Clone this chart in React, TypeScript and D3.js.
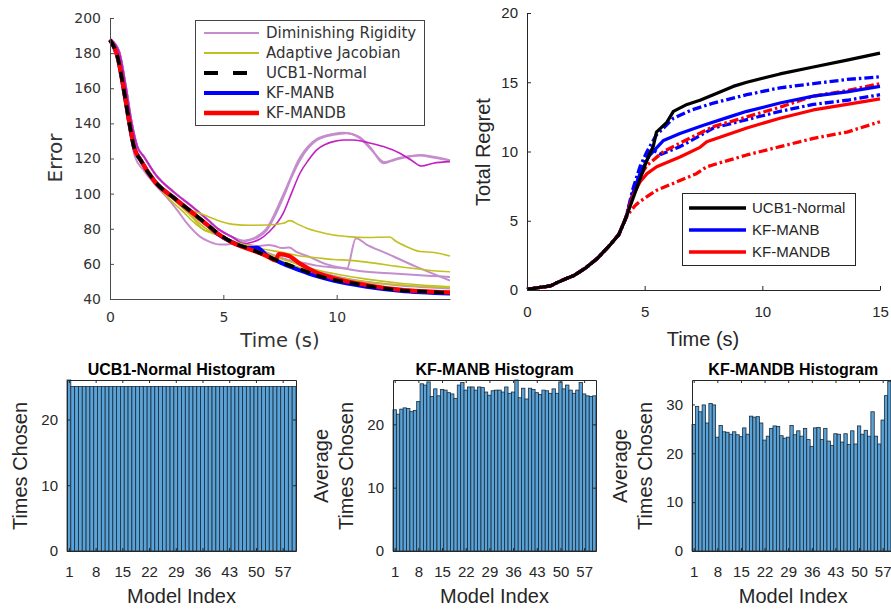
import { useEffect, useRef } from 'react';
import * as d3 from 'd3';

type Pt = [number, number];

// ---------- top left: Error vs Time (s) ----------
const errorTicks = [40, 60, 80, 100, 120, 140, 160, 180, 200];
const timeTicksLeft = [0, 5, 10];

const bundleStart: Pt[] = [[0, 187.5], [0.35, 177], [0.65, 156], [0.87, 139], [1.05, 127], [1.38, 118.5], [1.97, 107], [2.85, 97.3]];
const ucbErrTail: Pt[] = [[3.59, 89.7], [4.32, 82.1], [4.76, 77.4], [5.44, 72], [6.18, 68.5], [6.91, 64.5], [7.65, 60.5], [8.38, 57], [9.12, 53.5], [9.85, 51], [10.6, 49.3], [11.32, 47.5], [12.79, 45], [14.5, 43.8], [15, 43.3]];
const manbErrTail: Pt[] = [[3.59, 89.5], [4.32, 81.8], [4.76, 77], [5.44, 72], [6.18, 69], [6.5, 69.2], [6.9, 65], [7.65, 60], [8.38, 56.3], [9.12, 53], [9.85, 50.5], [11.32, 47], [12.79, 44.7], [15, 43.1]];
const mandbErrTail: Pt[] = [[3.59, 89.6], [4.32, 81.9], [4.76, 77.2], [5.44, 71.8], [6.18, 68.2], [6.91, 64.5], [7.3, 62], [7.45, 65.5], [7.9, 64.5], [8.4, 60], [9.12, 55], [9.85, 52], [11.32, 48], [12.79, 45.3], [15, 43.8]];

const drUpperStart: Pt[] = [[0, 188], [0.4, 181], [0.7, 161], [0.95, 141], [1.2, 127], [1.5, 121], [2.0, 111], [2.85, 100.5], [3.59, 93], [4.32, 85], [4.76, 80], [5.44, 75]];
const drDip: Pt[] = [[0, 187], [0.35, 176], [0.65, 153], [0.9, 134], [1.1, 121], [1.5, 113], [2.0, 105], [2.5, 98], [3.0, 90], [3.4, 83], [3.97, 75.5], [4.4, 72.5], [4.85, 71], [5.44, 71.5], [6.03, 73.5], [6.5, 75], [6.91, 79], [7.3, 88], [7.65, 98], [8.0, 109], [8.38, 119], [8.75, 126], [9.12, 130.5], [9.5, 132.5], [9.85, 133.5], [10.44, 134.4], [11.03, 132], [11.5, 126], [12.06, 117.3], [12.4, 118.5], [12.79, 120], [13.3, 121.3], [13.68, 122], [14.26, 121], [15, 119]];
const drRiseTail: Pt[] = [[6.0, 73], [6.4, 75], [6.9, 80], [7.65, 99.5], [8.38, 120.5], [9.12, 131], [9.85, 134], [10.3, 134.6], [11.03, 131.5], [11.6, 124], [12.1, 118], [12.79, 120.5], [13.68, 121.7], [14.26, 120.5], [15, 118.8]];
const drMagentaTail: Pt[] = [[5.9, 71.5], [6.3, 72.5], [6.6, 74], [7.0, 78], [7.65, 89], [8.0, 100], [8.38, 111.6], [8.75, 119], [9.12, 124.9], [9.5, 128], [9.85, 129.6], [10.3, 130.5], [10.74, 130.5], [11.4, 129], [12.06, 126.8], [12.79, 123], [13.3, 119], [13.74, 115.7], [14.26, 117.3], [15, 118.2]];
const drSpikeTail: Pt[] = [[5.9, 71.5], [6.9, 66.5], [7.65, 63], [8.38, 61], [9.12, 59], [9.85, 58], [10.45, 57.3], [10.85, 74.6], [11.32, 71], [12.2, 66], [13.5, 58.4], [15, 50.5]];
const drWiggleTail: Pt[] = [[6.0, 71.5], [6.5, 70.2], [7.0, 70.8], [7.3, 70], [7.6, 69], [7.9, 69.3], [8.2, 67], [8.8, 64], [9.5, 60], [10.2, 57.8], [11.0, 56], [12.5, 54.5], [14.0, 53.3], [15, 52.5]];
const drLowTail: Pt[] = [[6.18, 69.5], [6.91, 66], [7.65, 63], [8.38, 59.5], [9.12, 56], [9.85, 53.2], [11.32, 49.8], [12.79, 47.7], [15, 46]];

const ajFlat: Pt[] = [[3.0, 96], [3.59, 90.5], [3.97, 88.8], [4.4, 86.5], [4.7, 85], [5.44, 82.5], [6.2, 82], [6.91, 82.1], [7.65, 83.1], [7.94, 84.6], [8.3, 82.5], [8.68, 80.3], [9.3, 78], [9.85, 76.4], [10.5, 75.5], [11.32, 75], [12.35, 75.3], [12.6, 73], [13.09, 69.8], [13.68, 67], [14.3, 66.5], [15, 64.5]];
const ajMid: Pt[] = [[2.85, 96], [3.59, 87], [4.18, 79], [4.5, 78], [4.9, 76], [5.44, 73], [6.18, 70], [6.91, 68], [7.65, 66.5], [8.38, 64.5], [9.12, 63.5], [9.85, 62.5], [10.59, 62], [11.32, 61], [12.79, 58.4], [14.26, 56.1], [15, 55.5]];
const ajNear: Pt[] = [[2.85, 96.5], [3.59, 87.5], [4.18, 80.5], [4.76, 76.5], [5.44, 72.5], [6.18, 69], [6.91, 66], [7.65, 62.5], [8.38, 59.5], [9.12, 56.5], [9.85, 54.5], [11.32, 51.3], [12.79, 49], [15, 47]];
const ajLow: Pt[] = [[2.5, 98.5], [3.2, 90], [3.8, 82.5], [4.2, 79], [4.5, 77.5], [4.9, 75.5], [5.44, 72], [6.18, 68], [6.91, 64.8], [7.65, 61.2], [8.38, 57.8], [9.12, 54.8], [10.6, 51], [12.79, 48], [15, 46.5]];

// ---------- top right: Total Regret vs Time (s) ----------
const regretTicks = [0, 5, 10, 15, 20];
const timeTicksRight = [0, 5, 10, 15];

const regretStart: Pt[] = [[0, 0.05], [0.3, 0.12], [0.6, 0.2], [1.0, 0.3], [1.3, 0.55], [1.7, 0.85], [2.0, 1.05], [2.5, 1.6], [3.0, 2.3], [3.5, 3.2], [3.9, 4.0], [4.2, 5.2]];
const ucbRegret: Pt[] = [[4.5, 6.6], [4.8, 8.0], [5.1, 9.4], [5.37, 10.4], [5.5, 11.4], [5.94, 12.1], [6.22, 12.9], [6.8, 13.4], [7.35, 13.7], [7.92, 14.1], [8.76, 14.7], [9.34, 15.0], [10.75, 15.6], [12.17, 16.1], [13.6, 16.6], [15, 17.1]];
const manbRegret: Pt[] = [[4.5, 7.0], [4.8, 8.4], [5.2, 9.7], [5.8, 10.8], [6.5, 11.3], [7.5, 11.9], [8.6, 12.5], [9.34, 12.9], [10.75, 13.5], [12.17, 14.0], [13.6, 14.3], [15, 14.7]];
const manbRegretHi: Pt[] = [[4.5, 7.3], [4.8, 8.9], [5.1, 10.0], [5.5, 11.2], [6.22, 12.4], [7.0, 13.0], [7.92, 13.5], [9.34, 14.1], [10.75, 14.6], [12.17, 14.9], [13.6, 15.2], [15, 15.4]];
const manbRegretLo: Pt[] = [[4.5, 7.0], [4.8, 8.6], [5.1, 9.8], [5.35, 10.1], [5.7, 9.8], [6.5, 10.35], [7.2, 11.0], [7.92, 11.7], [9.34, 12.3], [10.75, 12.9], [12.17, 13.4], [13.6, 13.7], [15, 14.1]];
const mandbRegret: Pt[] = [[4.5, 6.8], [4.8, 7.8], [5.1, 8.4], [5.51, 8.9], [6.5, 9.6], [7.35, 10.3], [7.64, 10.7], [9.34, 11.7], [10.75, 12.4], [12.17, 13.0], [13.6, 13.4], [15, 13.8]];
const mandbRegretHi: Pt[] = [[4.5, 7.0], [4.8, 8.2], [5.1, 9.0], [5.8, 10.0], [7.2, 11.2], [7.92, 11.8], [9.34, 12.5], [10.75, 13.2], [12.17, 14.0], [13.6, 14.4], [15, 14.9]];
const mandbRegretLo: Pt[] = [[4.4, 5.7], [4.6, 6.1], [4.8, 6.4], [5.51, 7.2], [6.5, 7.9], [7.2, 8.4], [7.64, 8.9], [8.63, 9.4], [9.34, 9.75], [10.75, 10.35], [12.17, 10.95], [13.6, 11.4], [15, 12.15]];

// ---------- bottom: histograms over model index 1..60 ----------
const modelTicks = [1, 8, 15, 22, 29, 36, 43, 50, 57];
const ucbCounts = [26, 25, 25, 25, 25, 25, 25, 25, 25, 25, 25, 25, 25, 25, 25, 25, 25, 25, 25, 25, 25, 25, 25, 25, 25, 25, 25, 25, 25, 25, 25, 25, 25, 25, 25, 25, 25, 25, 25, 25, 25, 25, 25, 25, 25, 25, 25, 25, 25, 25, 25, 25, 25, 25, 25, 25, 25, 25, 25, 25];
const manbCounts = [22.3, 21.6, 22.4, 22.6, 22.5, 22.0, 22.2, 23.6, 26.4, 26.2, 26.7, 24.4, 25.6, 24.5, 25.5, 25.4, 25.0, 24.8, 24.1, 26.2, 26.6, 25.4, 25.9, 25.9, 25.4, 25.9, 25.8, 25.1, 24.6, 25.3, 25.4, 25.4, 25.1, 25.9, 24.9, 25.1, 27.0, 24.2, 25.7, 24.0, 25.7, 25.5, 25.0, 24.7, 25.4, 25.3, 24.9, 25.6, 24.9, 26.7, 25.6, 26.2, 25.4, 24.9, 25.4, 26.6, 24.8, 24.5, 24.4, 24.5];
const mandbCounts = [25.9, 29.6, 28.5, 29.9, 26.2, 30.2, 29.9, 23.3, 25.7, 24.4, 24.3, 23.9, 24.4, 23.8, 23.4, 25.2, 23.9, 27.6, 27.4, 27.5, 26.2, 22.7, 23.5, 25.1, 25.6, 25.5, 23.6, 23.1, 23.3, 25.7, 23.8, 24.6, 23.5, 25.1, 22.8, 21.4, 25.2, 25.3, 22.8, 25.1, 22.5, 21.6, 24.0, 23.9, 22.3, 24.0, 21.8, 24.6, 21.9, 25.6, 23.9, 24.7, 23.5, 28.5, 23.5, 21.9, 26.8, 31.8, 34.7, 35];

const SANS = "'Liberation Sans', Arial, sans-serif";
const DEJAVU = "'DejaVu Sans', Verdana, sans-serif";
const INK = '#262626';
const LIGHT_PURPLE = '#c48dcc';
const MAGENTA = '#c21fc4';
const OLIVE = '#c0c021';
const BAR_FILL = '#5aa3d8';

type Sel = d3.Selection<SVGGElement, unknown, null, undefined>;

function styleAxis(g: Sel, font: string, size: number, color: string) {
  g.attr('font-family', font).attr('font-size', size);
  g.select('.domain').attr('stroke', color);
  g.selectAll('.tick line').attr('stroke', color);
  g.selectAll('.tick text').attr('fill', color);
}

function addPath(g: Sel, pts: Pt[], x: d3.ScaleLinear<number, number>, y: d3.ScaleLinear<number, number>, color: string, width: number, dash: string | null, smooth: boolean) {
  const line = d3.line<Pt>().x((d) => x(d[0])).y((d) => y(d[1]));
  if (smooth) line.curve(d3.curveMonotoneX);
  g.append('path')
    .datum(pts)
    .attr('fill', 'none')
    .attr('stroke', color)
    .attr('stroke-width', width)
    .attr('stroke-linejoin', 'round')
    .attr('stroke-dasharray', dash)
    .attr('d', line);
}

function drawErrorPlot(svg: d3.Selection<SVGSVGElement, unknown, null, undefined>) {
  const x = d3.scaleLinear().domain([0, 15]).range([110, 450]);
  const y = d3.scaleLinear().domain([40, 200]).range([299, 18]);
  const axisColor = '#4a4a4a';

  svg.append('clipPath').attr('id', 'clipTL').append('rect').attr('x', 104).attr('y', 10).attr('width', 346).attr('height', 295);
  const plot = svg.append('g').attr('clip-path', 'url(#clipTL)');

  addPath(plot, drDip, x, y, LIGHT_PURPLE, 2, null, true);
  addPath(plot, drUpperStart.concat(drRiseTail), x, y, LIGHT_PURPLE, 2, null, true);
  addPath(plot, drUpperStart.concat(drWiggleTail), x, y, LIGHT_PURPLE, 2, null, true);
  addPath(plot, drUpperStart.concat(drSpikeTail), x, y, LIGHT_PURPLE, 2, null, true);
  addPath(plot, drUpperStart.concat(drLowTail), x, y, LIGHT_PURPLE, 2, null, true);
  addPath(plot, drUpperStart.concat(drMagentaTail), x, y, MAGENTA, 1.6, null, true);
  addPath(plot, bundleStart.concat(ajFlat), x, y, OLIVE, 1.6, null, true);
  addPath(plot, bundleStart.slice(0, 7).concat(ajMid), x, y, OLIVE, 1.6, null, true);
  addPath(plot, bundleStart.slice(0, 7).concat(ajNear), x, y, OLIVE, 1.6, null, true);
  addPath(plot, bundleStart.slice(0, 7).concat(ajLow), x, y, OLIVE, 1.6, null, true);
  addPath(plot, bundleStart.concat(manbErrTail), x, y, '#0000ff', 4, null, true);
  addPath(plot, bundleStart.concat(mandbErrTail), x, y, '#ff0000', 4.2, null, true);
  addPath(plot, bundleStart.concat(ucbErrTail), x, y, '#000000', 3.6, '10,7', true);

  const ay = svg.append('g').attr('transform', 'translate(110,0)')
    .call(d3.axisLeft(y).tickValues(errorTicks).tickSize(-4).tickSizeOuter(0).tickPadding(9));
  styleAxis(ay, DEJAVU, 14, axisColor);
  ay.selectAll('.tick text').attr('fill', '#333');
  const ax = svg.append('g').attr('transform', 'translate(0,299)')
    .call(d3.axisBottom(x).tickValues(timeTicksLeft).tickSize(-4).tickSizeOuter(0).tickPadding(13));
  styleAxis(ax, DEJAVU, 14, axisColor);
  ax.selectAll('.tick text').attr('fill', '#333');

  svg.append('text').attr('transform', 'translate(62,158) rotate(-90)').attr('text-anchor', 'middle')
    .attr('font-family', DEJAVU).attr('font-size', 20).attr('fill', '#333').text('Error');
  svg.append('text').attr('x', 280).attr('y', 347).attr('text-anchor', 'middle')
    .attr('font-family', DEJAVU).attr('font-size', 19.5).attr('fill', '#333').text('Time (s)');

  const legend = svg.append('g');
  legend.append('rect').attr('x', 195.5).attr('y', 20.5).attr('width', 229).attr('height', 105)
    .attr('fill', '#fff').attr('stroke', '#444').attr('stroke-width', 1);
  const items: [string, string, number, string | null][] = [
    ['Diminishing Rigidity', LIGHT_PURPLE, 2, null],
    ['Adaptive Jacobian', OLIVE, 2, null],
    ['UCB1-Normal', '#000000', 4, '14,15'],
    ['KF-MANB', '#0000ff', 4, null],
    ['KF-MANDB', '#ff0000', 4.5, null],
  ];
  items.forEach(([label, color, w, dash], i) => {
    const yy = 33 + i * 20;
    legend.append('line').attr('x1', 204).attr('x2', 259).attr('y1', yy).attr('y2', yy)
      .attr('stroke', color).attr('stroke-width', w).attr('stroke-dasharray', dash);
    legend.append('text').attr('x', 266).attr('y', yy).attr('dy', '0.36em')
      .attr('font-family', DEJAVU).attr('font-size', 15).attr('fill', '#333').text(label);
  });
}

function drawRegretPlot(svg: d3.Selection<SVGSVGElement, unknown, null, undefined>) {
  const x = d3.scaleLinear().domain([0, 15]).range([527, 880]);
  const y = d3.scaleLinear().domain([0, 20]).range([290, 13]);
  const plot = svg.append('g');
  const dashDot = '9,3,2.5,3';

  addPath(plot, regretStart.concat(manbRegretHi), x, y, '#0000ff', 3.3, dashDot, false);
  addPath(plot, regretStart.concat(manbRegretLo), x, y, '#0000ff', 3.3, dashDot, false);
  addPath(plot, regretStart.concat(mandbRegretHi), x, y, '#ff0000', 3.3, dashDot, false);
  addPath(plot, regretStart.concat(mandbRegretLo), x, y, '#ff0000', 3.3, dashDot, false);
  addPath(plot, regretStart.concat(manbRegret), x, y, '#0000ff', 3.2, null, false);
  addPath(plot, regretStart.concat(mandbRegret), x, y, '#ff0000', 3.2, null, false);
  addPath(plot, regretStart.concat(ucbRegret), x, y, '#000000', 3.2, null, false);

  const ay = svg.append('g').attr('transform', 'translate(527,0)')
    .call(d3.axisLeft(y).tickValues(regretTicks).tickSize(-4).tickSizeOuter(0).tickPadding(9));
  styleAxis(ay, SANS, 15, INK);
  const ax = svg.append('g').attr('transform', 'translate(0,290)')
    .call(d3.axisBottom(x).tickValues(timeTicksRight).tickSize(-4).tickSizeOuter(0).tickPadding(16));
  styleAxis(ax, SANS, 15, INK);

  svg.append('text').attr('transform', 'translate(490,152) rotate(-90)').attr('text-anchor', 'middle')
    .attr('font-family', SANS).attr('font-size', 20).attr('fill', INK).text('Total Regret');
  svg.append('text').attr('x', 703).attr('y', 346).attr('text-anchor', 'middle')
    .attr('font-family', SANS).attr('font-size', 20).attr('fill', INK).text('Time (s)');

  const legend = svg.append('g');
  legend.append('rect').attr('x', 682.5).attr('y', 193.5).attr('width', 173).attr('height', 72)
    .attr('fill', '#fff').attr('stroke', INK).attr('stroke-width', 1);
  const items: [string, string][] = [['UCB1-Normal', '#000000'], ['KF-MANB', '#0000ff'], ['KF-MANDB', '#ff0000']];
  items.forEach(([label, color], i) => {
    const yy = 208 + i * 22;
    legend.append('line').attr('x1', 689).attr('x2', 746).attr('y1', yy).attr('y2', yy)
      .attr('stroke', color).attr('stroke-width', 3.5);
    legend.append('text').attr('x', 752).attr('y', yy).attr('dy', '0.36em')
      .attr('font-family', SANS).attr('font-size', 15).attr('fill', INK).text(label);
  });
}

function drawHistogram(
  svg: d3.Selection<SVGSVGElement, unknown, null, undefined>,
  counts: number[], left: number, right: number, yMax: number, yTicks: number[],
  title: string, yLabel: string[],
) {
  const x = d3.scaleLinear().domain([0.5, 60.5]).range([left, right]);
  const y = d3.scaleLinear().domain([0, yMax]).range([551, 380]);
  const g = svg.append('g');

  g.selectAll('rect.bar')
    .data(counts)
    .join('rect')
    .attr('class', 'bar')
    .attr('x', (_, i) => x(i + 0.5))
    .attr('width', x(1.5) - x(0.5))
    .attr('y', (d) => y(d))
    .attr('height', (d) => y(0) - y(d))
    .attr('fill', BAR_FILL)
    .attr('stroke', '#1b2a38')
    .attr('stroke-width', 0.8);

  const ay = g.append('g').attr('transform', `translate(${left},0)`)
    .call(d3.axisLeft(y).tickValues(yTicks).tickSize(-3).tickSizeOuter(0).tickPadding(9));
  styleAxis(ay, SANS, 15, INK);
  const ax = g.append('g').attr('transform', 'translate(0,551)')
    .call(d3.axisBottom(x).tickValues(modelTicks).tickSize(-3).tickSizeOuter(0).tickPadding(15));
  styleAxis(ax, SANS, 15, INK);
  const at = g.append('g').attr('transform', 'translate(0,380)')
    .call(d3.axisTop(x).tickValues(modelTicks).tickSize(-3).tickSizeOuter(0).tickFormat(() => ''));
  styleAxis(at, SANS, 15, INK);
  const ar = g.append('g').attr('transform', `translate(${right},0)`)
    .call(d3.axisRight(y).tickValues(yTicks).tickSize(-3).tickSizeOuter(0).tickFormat(() => ''));
  styleAxis(ar, SANS, 15, INK);

  const cx = (left + right) / 2;
  g.append('text').attr('x', cx).attr('y', 375).attr('text-anchor', 'middle')
    .attr('font-family', SANS).attr('font-size', 16).attr('font-weight', 'bold').attr('fill', '#000').text(title);
  g.append('text').attr('x', cx).attr('y', 603).attr('text-anchor', 'middle')
    .attr('font-family', SANS).attr('font-size', 20).attr('fill', INK).text('Model Index');
  yLabel.forEach((line, i) => {
    const bx = left - 40 - (yLabel.length - 1 - i) * 25;
    g.append('text').attr('transform', `translate(${bx},466) rotate(-90)`).attr('text-anchor', 'middle')
      .attr('font-family', SANS).attr('font-size', 20).attr('fill', INK).text(line);
  });
}

const Figure = () => {
  const ref = useRef<SVGSVGElement>(null);

  useEffect(() => {
    const svg = d3.select(ref.current as SVGSVGElement);
    svg.selectAll('*').remove();
    drawErrorPlot(svg);
    drawRegretPlot(svg);
    drawHistogram(svg, ucbCounts, 67, 296, 26, [0, 10, 20], 'UCB1-Normal Histogram', ['Times Chosen']);
    drawHistogram(svg, manbCounts, 393, 596, 27, [0, 10, 20], 'KF-MANB Histogram', ['Average', 'Times Chosen']);
    drawHistogram(svg, mandbCounts, 692, 894.5, 35, [0, 10, 20, 30], 'KF-MANDB Histogram', ['Average', 'Times Chosen']);
  }, [ref]);

  return (
    <svg ref={ref} width={891} height={610}
      style={{ position: 'absolute', left: 0, top: 0, background: '#fff', display: 'block' }} />
  );
};

export default function App() {
  return (
    <div>
      <Figure />
    </div>
  );
}
